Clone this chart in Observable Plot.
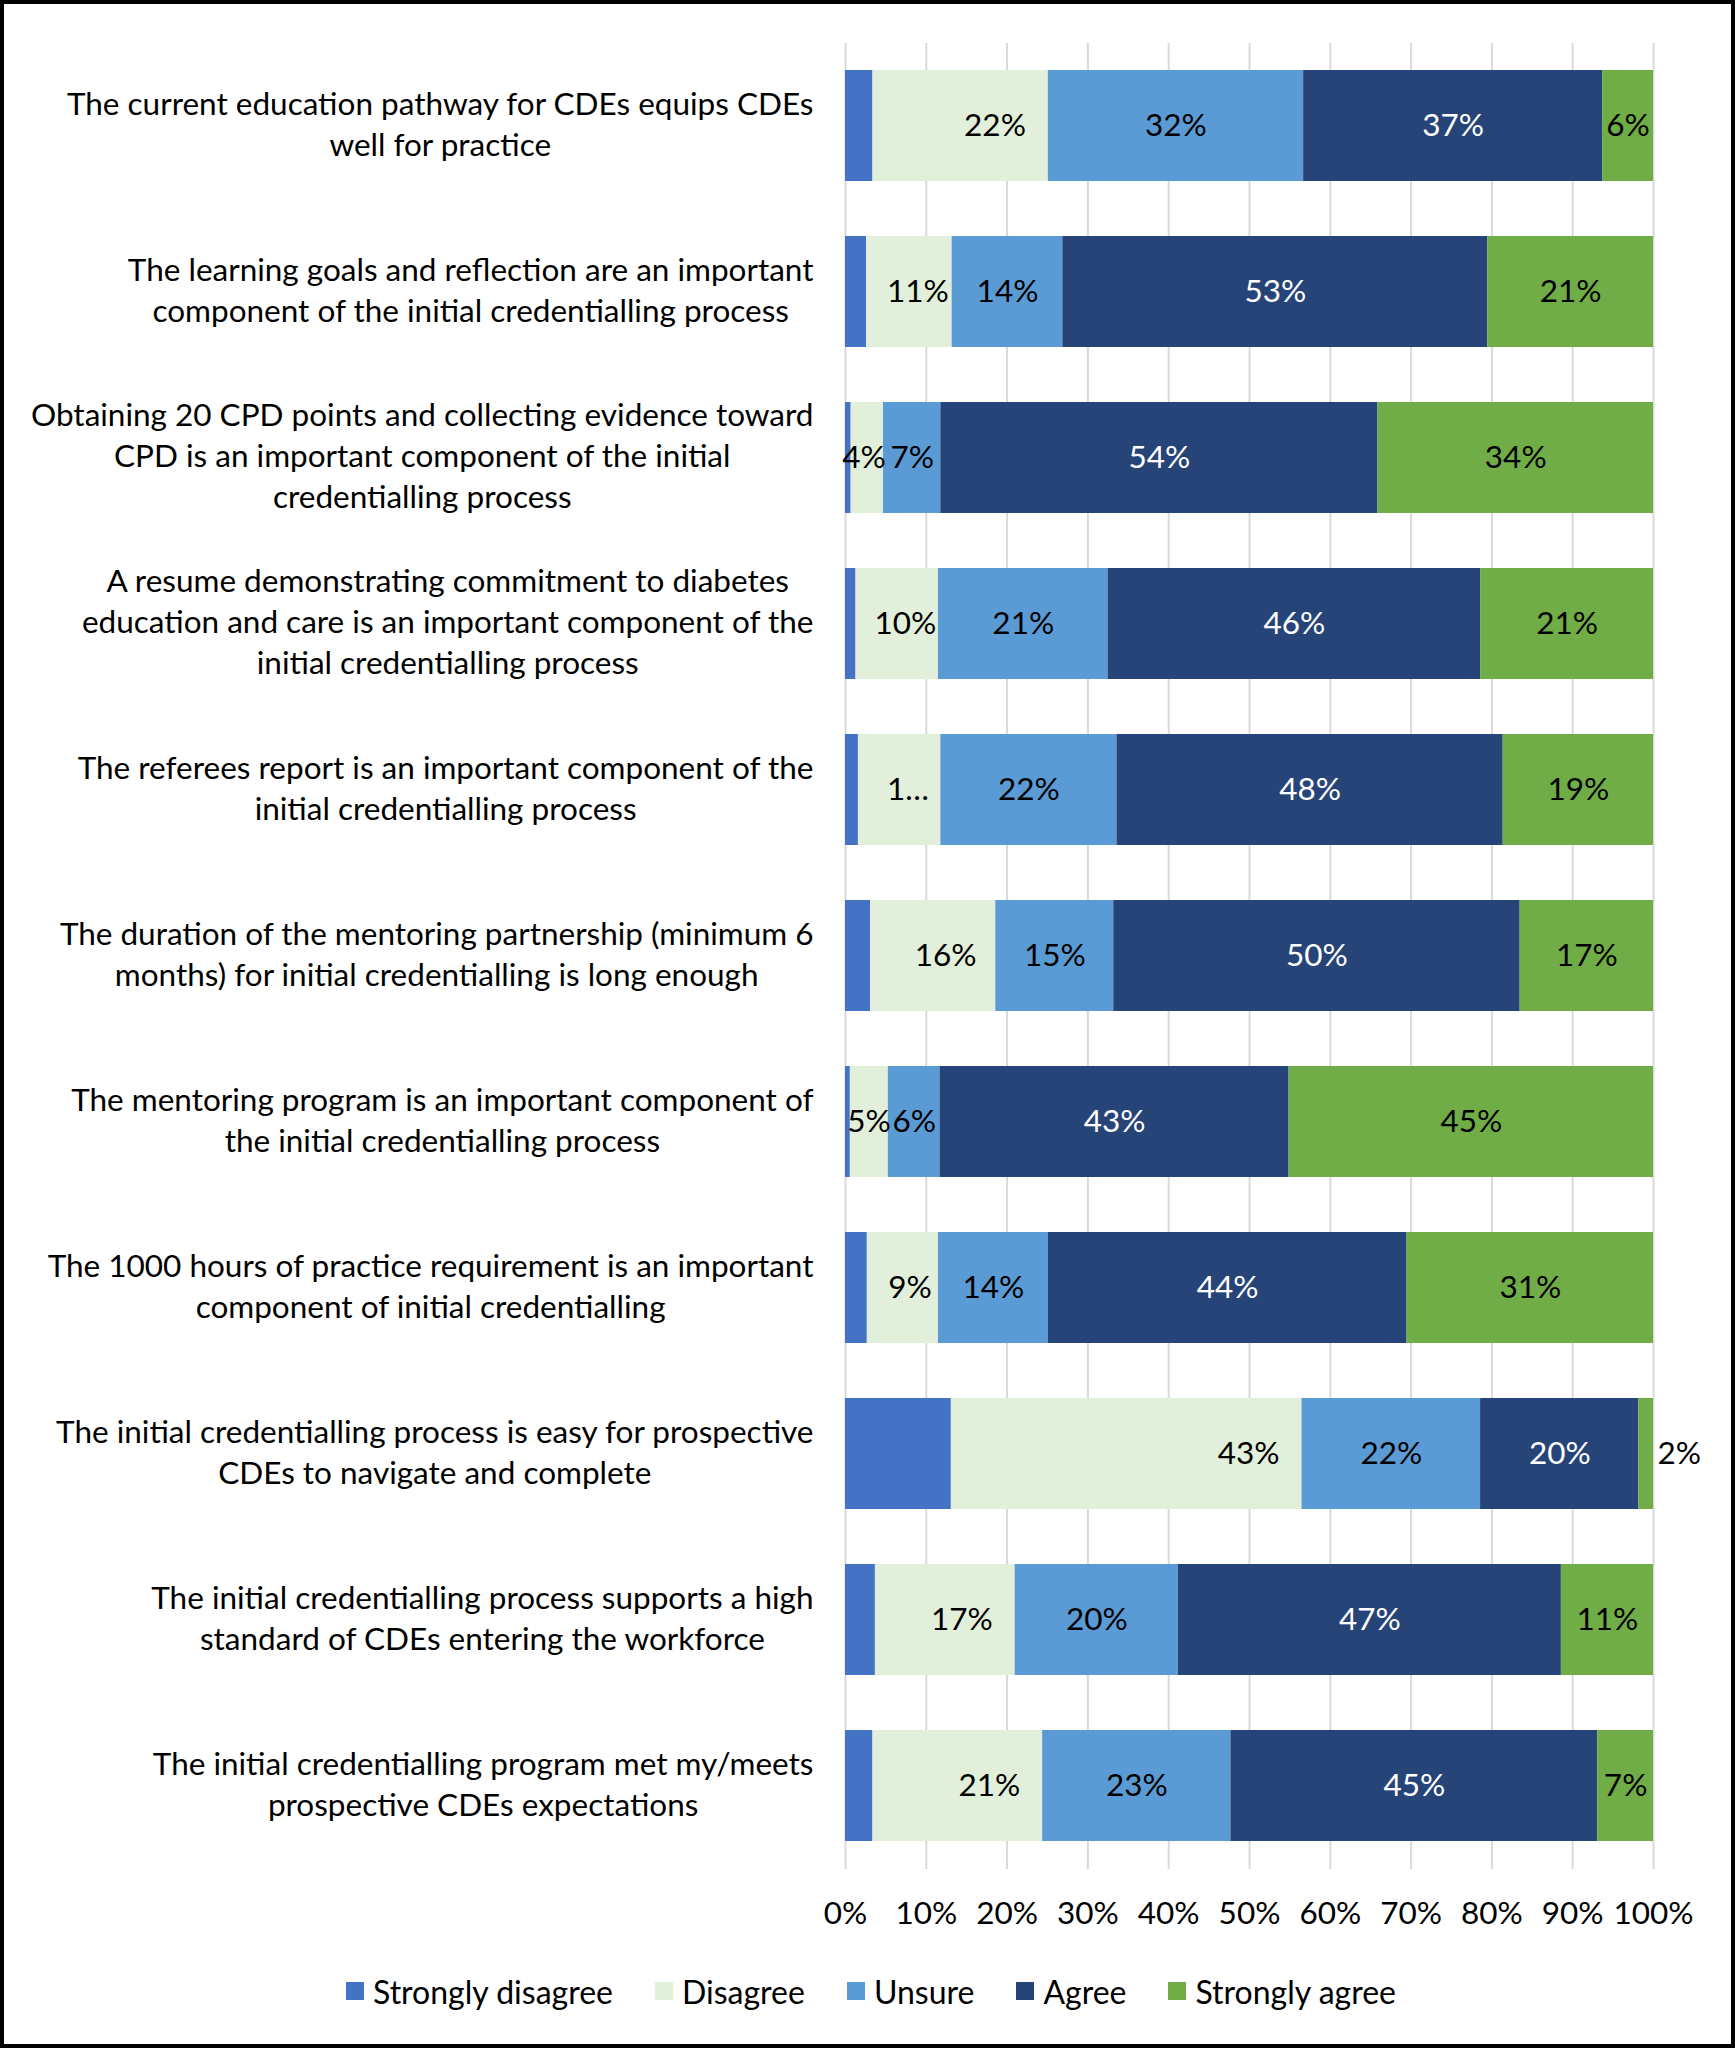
<!DOCTYPE html>
<html>
<head>
<meta charset="utf-8">
<script src="https://cdn.jsdelivr.net/npm/d3@7"></script>
<script src="https://cdn.jsdelivr.net/npm/@observablehq/plot@0.6"></script>
<style>
  html, body { margin: 0; padding: 0; background: #fff; }
  #wrap { position: relative; width: 1735px; height: 2048px; font-family: Lato, "Open Sans", sans-serif; background:#fff; }
  #chart { position: absolute; left: 0; top: 0; }
  #legend { position: absolute; left: 346px; top: 1950px; height: 82px; display: flex; align-items: center; font-size: 32px; color: #000; }
  .item { display: flex; align-items: center; margin-right: 42px; }
  .sw { width: 18px; height: 18px; margin-right: 9px; }
  #border { position: absolute; left: 0; top: 0; width: 1735px; height: 2048px; box-sizing: border-box; border: 4px solid #000; pointer-events: none; }
</style>
</head>
<body>
<div id="wrap">
  <div id="chart"></div>
  <div id="legend"></div>
  <div id="border"></div>
</div>
<script>
const categories = ["Strongly disagree", "Disagree", "Unsure", "Agree", "Strongly agree"];
const colors = ["#4472C4", "#E2EFDA", "#5B9BD5", "#264478", "#70AD47"];

const statements = [
  "The current education pathway for CDEs equips CDEs\nwell for practice",
  "The learning goals and reflection are an important\ncomponent of the initial credentialling process",
  "Obtaining 20 CPD points and collecting evidence toward\nCPD is an important component of the initial\ncredentialling process",
  "A resume demonstrating commitment to diabetes\neducation and care is an important component of the\ninitial credentialling process",
  "The referees report is an important component of the\ninitial credentialling process",
  "The duration of the mentoring partnership (minimum 6\nmonths) for initial credentialling is long enough",
  "The mentoring program is an important component of\nthe initial credentialling process",
  "The 1000 hours of practice requirement is an important\ncomponent of initial credentialling",
  "The initial credentialling process is easy for prospective\nCDEs to navigate and complete",
  "The initial credentialling process supports a high\nstandard of CDEs entering the workforce",
  "The initial credentialling program met my/meets\nprospective CDEs expectations"
];

const stronglyDisagree = [3.4, 2.6, 0.7, 1.3, 1.6, 3.1, 0.6, 2.7, 13.1, 3.7, 3.4];
const disagree         = [21.7, 10.6, 4.0, 10.2, 10.2, 15.5, 4.7, 8.8, 43.4, 17.3, 21.0];
const unsure           = [31.6, 13.7, 7.1, 21.0, 21.8, 14.6, 6.4, 13.6, 22.1, 20.2, 23.3];
const agree            = [37.0, 52.6, 54.1, 46.1, 47.8, 50.3, 43.2, 44.4, 19.6, 47.4, 45.4];
const stronglyAgree    = [6.3, 20.5, 34.1, 21.4, 18.6, 16.5, 45.1, 30.5, 1.8, 11.4, 6.9];

const disagreeLabels = ["22%", "11%", "4%", "10%", "1\u2026", "16%", "5%", "9%", "43%", "17%", "21%"];
const xTicks = [0, 10, 20, 30, 40, 50, 60, 70, 80, 90, 100];

const series = [stronglyDisagree, disagree, unsure, agree, stronglyAgree];
const rows = [];
statements.forEach((s, i) => {
  let acc = 0;
  series.forEach((arr, j) => {
    const v = arr[i];
    rows.push({statement: s, cat: categories[j], v, x1: acc, x2: acc + v, idx: i});
    acc += v;
  });
});
const pct = d => Math.round(d.v) + "%";
const mid = d => (d.x1 + d.x2) / 2;
const FS = 31.5;

const chart = Plot.plot({
  width: 1735,
  height: 1950,
  marginLeft: 845,
  marginRight: 82,
  marginTop: 43,
  marginBottom: 81,
  style: {fontFamily: "Lato, 'Open Sans', sans-serif", fontSize: FS + "px", color: "#000", background: "transparent"},
  x: {domain: [0, 100]},
  y: {domain: statements, paddingInner: 0.33, paddingOuter: 0.165},
  color: {domain: categories, range: colors},
  marks: [
    Plot.gridX(xTicks, {stroke: "#d9d9d9", strokeOpacity: 1, strokeWidth: 2}),
    Plot.barX(rows, {y: "statement", x1: "x1", x2: "x2", fill: "cat"}),
    Plot.text(rows.filter(d => d.cat === "Disagree"), {
      y: "statement",
      x: d => d.x2 - Math.min(6.6, Math.max(2.4, 0.4 * d.v)),
      text: d => disagreeLabels[d.idx], fill: "#000", fontSize: FS
    }),
    Plot.text(rows.filter(d => d.cat === "Unsure"), {y: "statement", x: mid, text: pct, fill: "#000", fontSize: FS}),
    Plot.text(rows.filter(d => d.cat === "Agree"), {y: "statement", x: mid, text: pct, fill: "#fff", fontSize: FS}),
    Plot.text(rows.filter(d => d.cat === "Strongly agree" && d.v >= 3), {y: "statement", x: mid, text: pct, fill: "#000", fontSize: FS}),
    Plot.text(rows.filter(d => d.cat === "Strongly agree" && d.v < 3), {y: "statement", x: "x2", text: pct, fill: "#000", fontSize: FS, textAnchor: "start", dx: 4}),
    Plot.axisX({ticks: xTicks, tickFormat: d => d + "%", tickSize: 0, tickPadding: 32, fontSize: FS, label: null}),
    Plot.axisY({tickSize: 0, tickPadding: 32, dy: -4, fontSize: FS, lineHeight: 1.3, label: null})
  ]
});

document.getElementById("chart").append(chart);

// center the lines of each multi-line category label within its own block (block stays right-aligned)
chart.querySelectorAll('g[aria-label="y-axis tick label"] text').forEach(t => {
  const b = t.getBBox();
  const cx = b.x + b.width / 2;
  t.setAttribute("text-anchor", "middle");
  const spans = t.querySelectorAll("tspan");
  if (spans.length) spans.forEach(s => s.setAttribute("x", cx));
  else t.setAttribute("x", cx);
});

const legend = document.getElementById("legend");
categories.forEach((c, i) => {
  const it = document.createElement("div");
  it.className = "item";
  const sw = document.createElement("div");
  sw.className = "sw";
  sw.style.background = colors[i];
  const lb = document.createElement("span");
  lb.textContent = c;
  it.append(sw, lb);
  legend.append(it);
});
</script>
</body>
</html>
